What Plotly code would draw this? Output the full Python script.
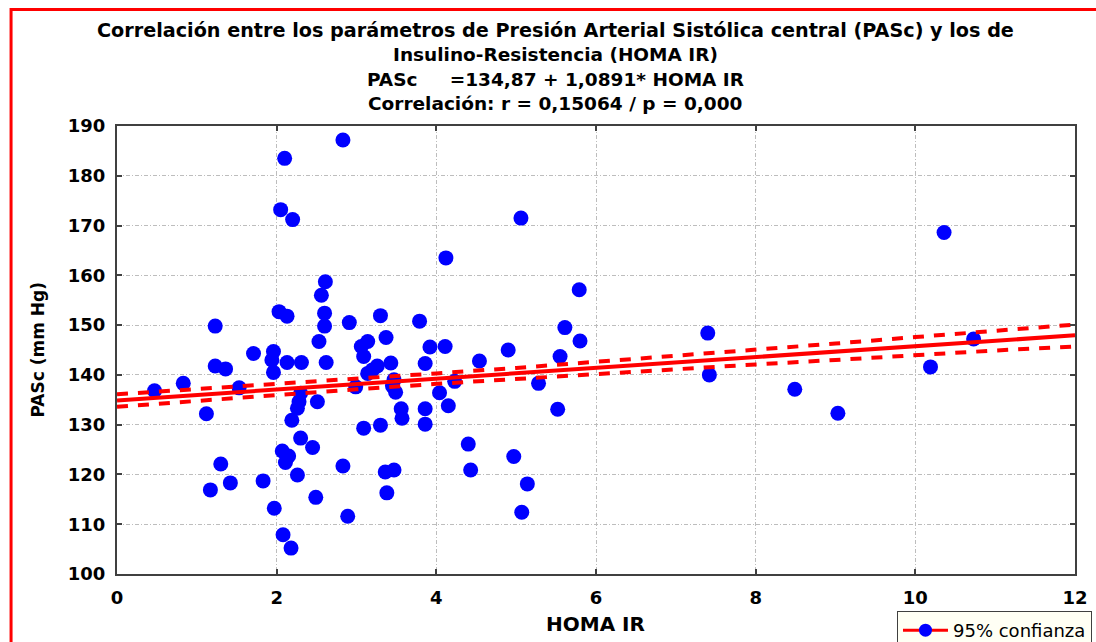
import plotly.graph_objects as go

# ---- data ----
homa_ir = [0.47, 0.83, 1.12, 1.17, 1.23, 1.23, 1.30, 1.36, 1.42, 1.53, 1.71, 1.83,
           1.96, 1.94, 1.96, 1.97, 2.03, 2.13, 2.05, 2.10, 2.20, 2.08, 2.18, 2.13,
           2.07, 2.15, 2.11, 2.26, 2.30, 2.28, 2.26, 2.19, 2.31, 2.30,
           2.45, 2.49, 2.51, 2.53, 2.56, 2.61, 2.60, 2.60, 2.62, 2.83, 2.83, 2.89, 2.91, 2.99,
           3.06, 3.14, 3.09, 3.26, 3.20, 3.14, 3.09, 3.30, 3.30, 3.37, 3.36, 3.47, 3.38,
           3.43, 3.47, 3.45, 3.49, 3.56, 3.57,
           3.79, 3.86, 3.86, 3.86, 3.92, 4.11, 4.04, 4.15, 4.12, 4.23,
           4.40, 4.43, 4.54, 4.90, 4.97, 5.06, 5.07, 5.14, 5.28, 5.52, 5.55, 5.61, 5.79, 5.80,
           7.40, 7.42, 8.49, 9.03, 10.19, 10.36, 10.73]
pasc = [136.8, 138.3, 132.2, 116.9, 149.8, 141.8, 122.1, 141.2, 118.3, 137.4, 144.3, 118.7,
        144.7, 143.0, 140.5, 113.2, 152.7, 151.8, 173.2, 183.5, 171.2, 107.9, 105.2, 142.5,
        124.7, 123.7, 122.4, 119.9, 136.3, 134.6, 133.3, 130.9, 142.5, 127.3,
        125.4, 115.4, 134.6, 146.7, 156.0, 158.7, 152.4, 149.8, 142.5, 187.2, 121.7, 111.6, 150.5, 137.6,
        145.7, 146.7, 143.7, 141.8, 141.0, 140.3, 129.3, 129.9, 151.9, 147.5, 120.5, 120.9, 116.3,
        142.4, 139.0, 137.8, 136.5, 133.2, 131.3,
        150.8, 142.3, 133.2, 130.1, 145.6, 145.7, 136.4, 133.8, 163.5, 138.7,
        126.1, 120.9, 142.8, 145.0, 123.6, 171.5, 112.4, 118.1, 138.3, 133.1, 143.7, 149.5, 157.1, 146.8,
        148.4, 140.0, 137.1, 132.3, 141.6, 168.6, 147.2]

fit_x = [0, 12]
fit_y = [134.87, 147.94]

ci_x = [0, 1, 2, 3, 4, 5, 6, 7, 8, 9, 10, 11, 12]
ci_upper = [136.1, 137.1, 138.1, 139.2, 140.3, 141.4, 142.6, 143.8, 145.0, 146.3, 147.6, 148.9, 150.1]
ci_lower = [133.6, 134.8, 136.0, 137.1, 138.2, 139.2, 140.2, 141.2, 142.1, 143.0, 144.0, 144.9, 145.7]

title_lines = [
    "Correlación entre los parámetros de Presión Arterial Sistólica central (PASc) y los de",
    "Insulino-Resistencia (HOMA IR)",
    "PASc\u00a0\u00a0\u00a0\u00a0\u00a0=134,87 + 1,0891* HOMA IR",
    "Correlación: r = 0,15064 / p = 0,000",
]
x_title = "HOMA IR"
y_title = "PASc (mm Hg)"
legend_name = "95% confianza"

# ---- layout geometry (pixels) ----
W, H = 1096, 642
L, R, T, B = 116.5, 1075, 126, 574


def px_x(p):
    return (p - L) / (R - L)


def px_y(p):
    return (B - p) / (B - T)


fig = go.Figure()

fig.add_trace(go.Scatter(
    x=homa_ir, y=pasc, mode="markers",
    marker=dict(color="#0000FF", size=15, line=dict(width=0)),
    showlegend=False, hoverinfo="skip"))

for band in (ci_upper, ci_lower):
    fig.add_trace(go.Scatter(
        x=ci_x, y=band, mode="lines",
        line=dict(color="#FF0000", width=4, dash="11px,10px"),
        showlegend=False, hoverinfo="skip"))

fig.add_trace(go.Scatter(
    x=fit_x, y=fit_y, mode="lines",
    line=dict(color="#FF0000", width=4),
    showlegend=False, hoverinfo="skip"))

fig.add_trace(go.Scatter(
    x=[None], y=[None], mode="lines+markers", name=legend_name,
    line=dict(color="#FF0000", width=3),
    marker=dict(color="#0000FF", size=13),
    showlegend=True))

title_y = [30, 54.5, 79, 103.5]
title_sizes = [19.2, 18.5, 18.5, 18.5]
annotations = []
for txt, yy, fs in zip(title_lines, title_y, title_sizes):
    annotations.append(dict(
        text=txt, xref="paper", yref="paper", x=px_x(555), y=px_y(yy),
        xanchor="center", yanchor="middle", showarrow=False,
        font=dict(family="DejaVu Sans", size=fs, color="#000000", weight="bold")))

annotations.append(dict(
    text=x_title, xref="paper", yref="paper", x=px_x(595.5), y=px_y(624),
    xanchor="center", yanchor="middle", showarrow=False,
    font=dict(family="DejaVu Sans", size=20, color="#000000", weight="bold")))
annotations.append(dict(
    text=y_title, xref="paper", yref="paper", x=px_x(37), y=px_y(350),
    xanchor="center", yanchor="middle", showarrow=False, textangle=-90,
    font=dict(family="DejaVu Sans", size=17, color="#000000", weight="bold")))

axis_common = dict(
    showline=True, linecolor="#404040", linewidth=2, mirror="ticks",
    ticks="inside", ticklen=5, tickwidth=1.5, tickcolor="#404040",
    showgrid=True, gridcolor="#BDBDBD", gridwidth=1, griddash="4px,2px,1px,2px",
    zeroline=False, automargin=False,
    tickfont=dict(family="DejaVu Sans", size=18, color="#000000", weight="bold"),
)

fig.update_layout(
    width=W, height=H,
    margin=dict(l=L, r=W - R, t=T, b=H - B, pad=0, autoexpand=False),
    paper_bgcolor="#FFFFFF", plot_bgcolor="#FFFFFF",
    xaxis=dict(range=[0, 12], tickvals=[0, 2, 4, 6, 8, 10, 12], ticklabelstandoff=6, **axis_common),
    yaxis=dict(range=[100, 190], tickvals=list(range(100, 191, 10)), ticklabelstandoff=6, **axis_common),
    annotations=annotations,
    showlegend=True,
    legend=dict(
        x=px_x(1092), y=px_y(611), xanchor="right", yanchor="top",
        bgcolor="#FFFFF4", bordercolor="#404040", borderwidth=1,
        font=dict(family="DejaVu Sans", size=18, color="#000000"),
        itemwidth=45, tracegroupgap=0),
    shapes=[dict(type="rect", xref="paper", yref="paper",
                 x0=px_x(10.5), x1=px_x(1200), y0=px_y(700), y1=px_y(9.5),
                 line=dict(color="#FF0000", width=3), fillcolor="rgba(0,0,0,0)", layer="above")],
)

fig.write_html("out.html")
